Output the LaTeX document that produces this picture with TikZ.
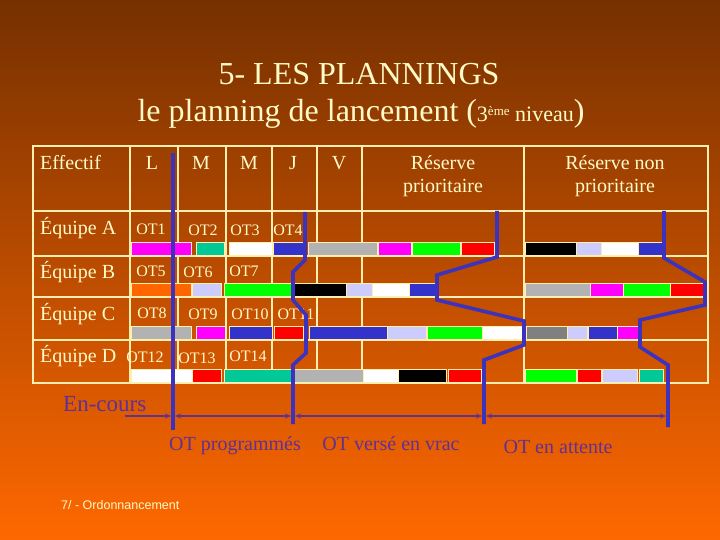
\documentclass[tikz,border=0pt]{standalone}
\usepackage{fontspec}
\setmainfont{Liberation Serif}
\newfontfamily\sansf{Liberation Sans}
\usetikzlibrary{arrows.meta}
\definecolor{cream}{RGB}{255,250,200}
\definecolor{gridc}{RGB}{255,238,175}
\definecolor{bgtop}{RGB}{118,48,0}
\definecolor{bgbot}{RGB}{255,104,0}
\definecolor{bmag}{RGB}{255,0,255}
\definecolor{bteal}{RGB}{0,200,150}
\definecolor{bblue}{RGB}{51,51,204}
\definecolor{bgray}{RGB}{178,178,178}
\definecolor{bdgray}{RGB}{128,128,128}
\definecolor{bgreen}{RGB}{0,255,0}
\definecolor{bred}{RGB}{255,0,0}
\definecolor{blav}{RGB}{204,204,255}
\definecolor{bora}{RGB}{255,102,0}
\definecolor{lineblue}{RGB}{60,50,190}
\definecolor{purp}{RGB}{96,48,150}
\begin{document}
\begin{tikzpicture}[x=1pt,y=-1pt,
  grid/.style={draw=gridc,line width=1.8pt},
  bar/.style={draw=gridc,line width=0.4pt},
  big/.style={text=cream,font=\fontsize{20}{23}\selectfont,inner sep=0pt},
  otl/.style={text=cream,font=\fontsize{16}{18}\selectfont,inner sep=0pt,anchor=base},
  blab/.style={text=purp,font=\fontsize{20}{23}\selectfont,inner sep=0pt,anchor=base},
  bline/.style={draw=lineblue,line width=3.6pt},
  arr/.style={draw=purp,line width=1.4pt},
  tip/.tip={Stealth[length=6pt,width=5pt]}
]
\useasboundingbox (0,0) rectangle (720,540);
\shade[top color=bgtop,bottom color=bgbot] (0,0) rectangle (720,540);

% title
\node[text=cream,font=\fontsize{32}{36}\selectfont,inner sep=0pt,anchor=base] (t1) at (359,85) {5- LES PLANNINGS};
\node[text=cream,font=\fontsize{32}{36}\selectfont,inner sep=0pt,anchor=base] (t2) at (361,122)
  {le planning de lancement ({\fontsize{22}{24}\selectfont 3\raisebox{0.6ex}{\fontsize{13}{13}\selectfont ème} niveau})};

% table grid
\foreach \x in {130,178,226,272,317,362,524}
  \draw[grid] (\x,146) -- (\x,383);
\foreach \y in {211,256,297,340}
  \draw[grid] (33,\y) -- (708,\y);
\draw[grid,line width=2.4pt] (33,146) rectangle (708,383);

% bars
\foreach \a/\b/\c in {131/191/bmag,196/224/bteal,229/272/white,273/306/bblue,308/377/bgray,378/411/bmag,412/460/bgreen,461/494/bred,525/576/black,576/601/blav,601/638/white,638/665/bblue}
  \path[bar,fill=\c] (\a,242) rectangle (\b,255);
\foreach \a/\b/\c in {131/191/bora,192/221/blav,224/292/bgreen,292/346/black,346/372/blav,372/409/white,409/435/bblue,525/590/bgray,590/623/bmag,623/670/bgreen,670/703/bred}
  \path[bar,fill=\c] (\a,283) rectangle (\b,296);
\foreach \a/\b/\c in {131/191/bgray,196/225/bmag,229/272/bblue,274/303/bred,309/387/bblue,387/426/blav,427/482/bgreen,482/522/white,526/567/bdgray,567/587/blav,588/617/bblue,617/638/bmag}
  \path[bar,fill=\c] (\a,326) rectangle (\b,339);
\foreach \a/\b/\c in {131/192/white,192/221/bred,224/292/bteal,292/363/bgray,363/398/white,398/446/black,448/481/bred,525/576/bgreen,577/601/bred,602/637/blav,639/663/bteal}
  \path[bar,fill=\c] (\a,369) rectangle (\b,382);

% header
\node[big,anchor=base west] (hEff) at (40,170) {Effectif};
\node[big,anchor=base] (hL) at (152,170) {L};
\node[big,anchor=base] (hM1) at (201,170) {M};
\node[big,anchor=base] (hM2) at (249,170) {M};
\node[big,anchor=base] (hJ) at (293,170) {J};
\node[big,anchor=base] (hV) at (339,170) {V};
\node[big,anchor=base] (hR1a) at (443,170) {Réserve};
\node[big,anchor=base] (hR1b) at (443,193) {prioritaire};
\node[big,anchor=base] (hR2a) at (615,170) {Réserve non};
\node[big,anchor=base] (hR2b) at (615,193) {prioritaire};

% row labels
\node[big,anchor=base west] (eqA) at (40,235) {Équipe A};
\node[big,anchor=base west] (eqB) at (40,278) {Équipe B};
\node[big,anchor=base west] (eqC) at (40,320) {Équipe C};
\node[big,anchor=base west] (eqD) at (40,362) {Équipe D};

% OT labels
\node[otl] (ot1) at (151,235) {OT1};
\node[otl] (ot2) at (203,236) {OT2};
\node[otl] (ot3) at (245,236) {OT3};
\node[otl] (ot4) at (288,236) {OT4};
\node[otl] (ot5) at (151,276) {OT5};
\node[otl] (ot6) at (198,277) {OT6};
\node[otl] (ot7) at (244,276) {OT7};
\node[otl] (ot8) at (152,318) {OT8};
\node[otl] (ot9) at (203,319) {OT9};
\node[otl] (ot10) at (250,319) {OT10};
\node[otl] (ot11) at (296,319) {OT11};
\node[otl] (ot12) at (145,362) {OT12};
\node[otl] (ot13) at (197,363) {OT13};
\node[otl] (ot14) at (248,361) {OT14};

% blue boundary lines
\coordinate (l1t) at (173,153);
\coordinate (l1b) at (173,430);
\coordinate (l2t) at (305,212);
\coordinate (l2b) at (293,424);
\coordinate (l3t) at (497,211);
\coordinate (l3b) at (484,424);
\coordinate (l4t) at (664,211);
\coordinate (l4b) at (668,427);
\draw[bline] (l1t) -- (l1b);
\draw[bline] (l2t) -- (305,260) -- (293,272) -- (293,300) -- (306,315) -- (306,353) -- (293,365) -- (l2b);
\draw[bline] (l3t) -- (497,257) -- (437,275) -- (437,300) -- (524,321) -- (524,345) -- (484,360) -- (l3b);
\draw[bline] (l4t) -- (664,258) -- (705,282) -- (705,305) -- (640,320) -- (640,347) -- (668,365) -- (l4b);

% arrows
\coordinate (a0) at (125,416);
\coordinate (a1) at (173,416);
\coordinate (a2) at (293,416);
\coordinate (a3) at (484,416);
\coordinate (a4) at (668,416);
\draw[arr,-tip] (a0) -- ([xshift=-2pt]a1);
\draw[arr,tip-tip] ([xshift=2pt]a1) -- ([xshift=-2pt]a2);
\draw[arr,tip-tip] ([xshift=2pt]a2) -- ([xshift=-2pt]a3);
\draw[arr,tip-tip] ([xshift=2pt]a3) -- ([xshift=-2pt]a4);

% bottom labels
\node[blab,anchor=base west,font=\fontsize{23}{26}\selectfont] (enc) at (63,411) {En-cours};
\node[blab] (otp) at (235,450) {OT programmés};
\node[blab] (otv) at (391,450) {OT versé en vrac};
\node[blab] (ota) at (558,453) {OT en attente};

\node[text=cream,font=\sansf\fontsize{12.5}{14}\selectfont,inner sep=0pt,anchor=base west] (foot) at (61,509) {7/ - Ordonnancement};
\end{tikzpicture}
\end{document}
